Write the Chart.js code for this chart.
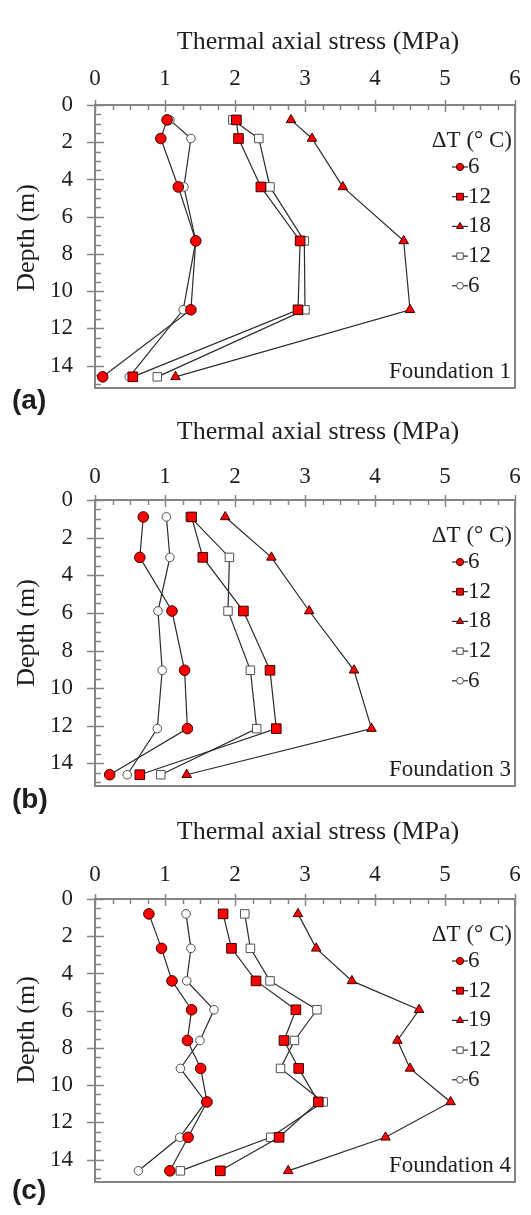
<!DOCTYPE html>
<html>
<head>
<meta charset="utf-8">
<title>Thermal axial stress profiles</title>
<script src="https://cdn.jsdelivr.net/npm/chart.js@4.4.1/dist/chart.umd.min.js"></script>
<style>
  body { margin: 0; background: #fff; }
  #wrap { position: relative; width: 531px; height: 1215px; overflow: hidden; }
  #wrap canvas { position: absolute; left: 0; }
</style>
</head>
<body>
<div id="wrap">
  <canvas id="chartF1" width="531" height="421" style="top:0px"></canvas>
  <canvas id="chartF3" width="531" height="421" style="top:395px"></canvas>
  <canvas id="chartF4" width="531" height="421" style="top:794px"></canvas>
</div>
<script>
// gauge depths (m)
const depthF1 = [0.8, 1.8, 4.4, 7.3, 11.0, 14.6];
const depthF3 = [0.9, 3.05, 5.9, 9.05, 12.15, 14.6];
const depthF4 = [0.8, 2.65, 4.4, 5.95, 7.6, 9.1, 10.9, 12.8, 14.6];

// thermal axial stress (MPa), Foundation 1
const f1Heat6  = [1.03, 0.94, 1.19, 1.44, 1.37, 0.11];
const f1Heat12 = [2.02, 2.05, 2.37, 2.93, 2.90, 0.54];
const f1Heat18 = [2.80, 3.10, 3.54, 4.41, 4.50, 1.15];
const f1Cool12 = [1.97, 2.34, 2.50, 2.99, 3.00, 0.89];
const f1Cool6  = [1.07, 1.37, 1.27, 1.44, 1.26, 0.49];

// Foundation 3
const f3Heat6  = [0.69, 0.64, 1.10, 1.28, 1.32, 0.21];
const f3Heat12 = [1.38, 1.54, 2.12, 2.50, 2.59, 0.64];
const f3Heat18 = [1.86, 2.52, 3.06, 3.70, 3.95, 1.31];
const f3Cool12 = [1.36, 1.92, 1.90, 2.22, 2.31, 0.94];
const f3Cool6  = [1.02, 1.07, 0.90, 0.96, 0.89, 0.46];

// Foundation 4
const f4Heat6  = [0.77, 0.95, 1.10, 1.38, 1.32, 1.51, 1.60, 1.33, 1.07];
const f4Heat12 = [1.83, 1.95, 2.30, 2.87, 2.70, 2.91, 3.19, 2.63, 1.79];
const f4Heat19 = [2.90, 3.16, 3.67, 4.63, 4.32, 4.50, 5.08, 4.15, 2.76];
const f4Cool12 = [2.14, 2.22, 2.50, 3.17, 2.85, 2.65, 3.26, 2.51, 1.22];
const f4Cool6  = [1.30, 1.37, 1.31, 1.70, 1.50, 1.22, 1.58, 1.21, 0.62];

// legend labels, ΔT (°C)
const deltaTF1 = ['6', '12', '18', '12', '6'];
const deltaTF3 = ['6', '12', '18', '12', '6'];
const deltaTF4 = ['6', '12', '19', '12', '6'];

// axis ranges
const stressMin = 0, stressMax = 6, stressStep = 1;
const depthMin = 0, depthMax = 15.2, depthStep = 2;

const AXIS_GREY = '#858585';
const INK = '#1e1e1e';
const SERIF = "'Liberation Serif', 'Times New Roman', serif";
const SANS = "'Liberation Sans', Arial, sans-serif";

// marker look for the five series, in legend order
const seriesStyles = [
  { pointStyle: 'circle',   fill: '#ff0000', edge: '#3a0000', radius: 5.3, legendR: 3.6 },
  { pointStyle: 'rect',     fill: '#ff0000', edge: '#3a0000', radius: 6.8, legendR: 3.4 },
  { pointStyle: 'triangle', fill: '#ff0000', edge: '#3a0000', radius: 5.5, legendR: 4 },
  { pointStyle: 'rect',     fill: '#ffffff', edge: '#505050', radius: 6,   legendR: 3.2 },
  { pointStyle: 'circle',   fill: '#ffffff', edge: '#505050', radius: 4.3, legendR: 3.4 }
];

function buildDatasets(depths, seriesList, labels) {
  return seriesList.map((values, i) => {
    const st = seriesStyles[i];
    return {
      label: labels[i],
      data: values.map((v, k) => ({ x: v, y: depths[k] })),
      showLine: true,
      borderColor: '#2b2b2b',
      borderWidth: 1.2,
      pointStyle: st.pointStyle,
      pointRadius: st.radius,
      pointBackgroundColor: st.fill,
      pointBorderColor: st.edge,
      pointBorderWidth: 1,
      legendR: st.legendR
    };
  });
}

function drawMarker(ctx, style, x, y, r) {
  ctx.beginPath();
  if (style === 'circle') {
    ctx.arc(x, y, r, 0, Math.PI * 2);
  } else if (style === 'rect') {
    ctx.rect(x - r, y - r, 2 * r, 2 * r);
  } else {
    ctx.moveTo(x, y - r);
    ctx.lineTo(x + r * 0.866, y + r * 0.5);
    ctx.lineTo(x - r * 0.866, y + r * 0.5);
    ctx.closePath();
  }
  ctx.fill();
  ctx.stroke();
}

// frame, crossing major ticks and inward minor ticks
const frameTicks = {
  id: 'frameTicks',
  beforeDatasetsDraw(chart) {
    const { ctx, chartArea: a, scales: { x, y } } = chart;
    ctx.save();
    ctx.strokeStyle = AXIS_GREY;
    ctx.lineWidth = 1.5;
    ctx.beginPath();
    for (let k = 0; k <= (stressMax - stressMin) * 4; k++) {
      const v = stressMin + k * 0.25;
      const px = Math.round(x.getPixelForValue(v)) + 0.5;
      const major = k % 4 === 0;
      ctx.moveTo(px, major ? a.top - 5 : a.top);
      ctx.lineTo(px, a.top + (major ? 7 : 5));
    }
    for (let k = 0; k * 0.5 < depthMax; k++) {
      const v = k * 0.5;
      const py = Math.round(y.getPixelForValue(v)) + 0.5;
      const major = k % 4 === 0;
      ctx.moveTo(major ? a.left - 8 : a.left, py);
      ctx.lineTo(a.left + (major ? 9 : 6), py);
    }
    ctx.stroke();
    ctx.lineWidth = 2;
    ctx.strokeRect(a.left, a.top, a.right - a.left, a.bottom - a.top);
    ctx.restore();
  },
  afterDatasetsDraw(chart, args, opts) {
    const { ctx, chartArea: a } = chart;
    ctx.save();
    ctx.fillStyle = INK;

    // axis titles
    ctx.font = '26px ' + SERIF;
    ctx.textAlign = 'center';
    ctx.textBaseline = 'middle';
    ctx.fillText('Thermal axial stress (MPa)', opts.titleX, opts.titleY);
    ctx.save();
    ctx.translate(27, opts.depthTitleY);
    ctx.rotate(-Math.PI / 2);
    ctx.fillText('Depth (m)', 0, 0);
    ctx.restore();

    // legend
    ctx.font = '23px ' + SERIF;
    ctx.textAlign = 'right';
    ctx.fillText('ΔT (° C)', a.right - 3, a.top + 36);
    const mx = a.right - 55;
    chart.data.datasets.forEach((ds, i) => {
      const ly = a.top + 62 + i * 29.7;
      ctx.strokeStyle = '#2b2b2b';
      ctx.lineWidth = 1.2;
      ctx.beginPath();
      ctx.moveTo(mx - 8, ly);
      ctx.lineTo(mx + 8, ly);
      ctx.stroke();
      ctx.fillStyle = ds.pointBackgroundColor;
      ctx.strokeStyle = ds.pointBorderColor;
      ctx.lineWidth = 1;
      drawMarker(ctx, ds.pointStyle, mx, ly, ds.legendR);
      ctx.fillStyle = INK;
      ctx.textAlign = 'left';
      ctx.fillText(ds.label, mx + 8, ly);
    });

    // foundation name
    ctx.textAlign = 'right';
    ctx.textBaseline = 'alphabetic';
    ctx.fillText(opts.name, a.right - 4, a.bottom - 10);

    // panel letter
    ctx.font = 'bold 28px ' + SANS;
    ctx.textAlign = 'left';
    ctx.textBaseline = 'middle';
    ctx.fillText(opts.letter, 12, opts.letterY);
    ctx.restore();
  }
};

function makePanel(canvasId, datasets, panel) {
  const ctx = document.getElementById(canvasId).getContext('2d');
  const canvasH = ctx.canvas.height;
  return new Chart(ctx, {
    type: 'scatter',
    data: { datasets: datasets },
    options: {
      responsive: false,
      animation: false,
      events: [],
      layout: { padding: { left: 0, top: 0, right: 531 - 515, bottom: canvasH - panel.plotBottom } },
      plugins: {
        legend: { display: false },
        tooltip: { enabled: false },
        frameTicks: panel
      },
      scales: {
        x: {
          type: 'linear',
          position: 'top',
          min: stressMin,
          max: stressMax,
          grid: { display: false, drawTicks: false },
          border: { display: false },
          ticks: { stepSize: stressStep, padding: panel.tickPad, color: INK, font: { family: SERIF, size: 23 } },
          afterFit(scale) {
            scale.height = panel.axisTop;
            scale.paddingLeft = 0;
            scale.paddingRight = 0;
          }
        },
        y: {
          type: 'linear',
          reverse: true,
          min: depthMin,
          max: depthMax,
          grid: { display: false, drawTicks: false },
          border: { display: false },
          ticks: { stepSize: depthStep, includeBounds: false, padding: 22, color: INK, font: { family: SERIF, size: 23 } },
          afterFit(scale) {
            scale.width = 95;
            scale.paddingTop = 0;
            scale.paddingBottom = 0;
          }
        }
      }
    },
    plugins: [frameTicks]
  });
}

makePanel('chartF1',
  buildDatasets(depthF1, [f1Heat6, f1Heat12, f1Heat18, f1Cool12, f1Cool6], deltaTF1),
  { name: 'Foundation 1', letter: '(a)', axisTop: 105, plotBottom: 388, tickPad: 12,
    titleX: 318, titleY: 42, depthTitleY: 238, letterY: 401 });

makePanel('chartF3',
  buildDatasets(depthF3, [f3Heat6, f3Heat12, f3Heat18, f3Cool12, f3Cool6], deltaTF3),
  { name: 'Foundation 3', letter: '(b)', axisTop: 105, plotBottom: 391, tickPad: 9,
    titleX: 318, titleY: 37, depthTitleY: 238, letterY: 405 });

makePanel('chartF4',
  buildDatasets(depthF4, [f4Heat6, f4Heat12, f4Heat19, f4Cool12, f4Cool6], deltaTF4),
  { name: 'Foundation 4', letter: '(c)', axisTop: 105, plotBottom: 388, tickPad: 10,
    titleX: 318, titleY: 38, depthTitleY: 236, letterY: 397 });
</script>
</body>
</html>
